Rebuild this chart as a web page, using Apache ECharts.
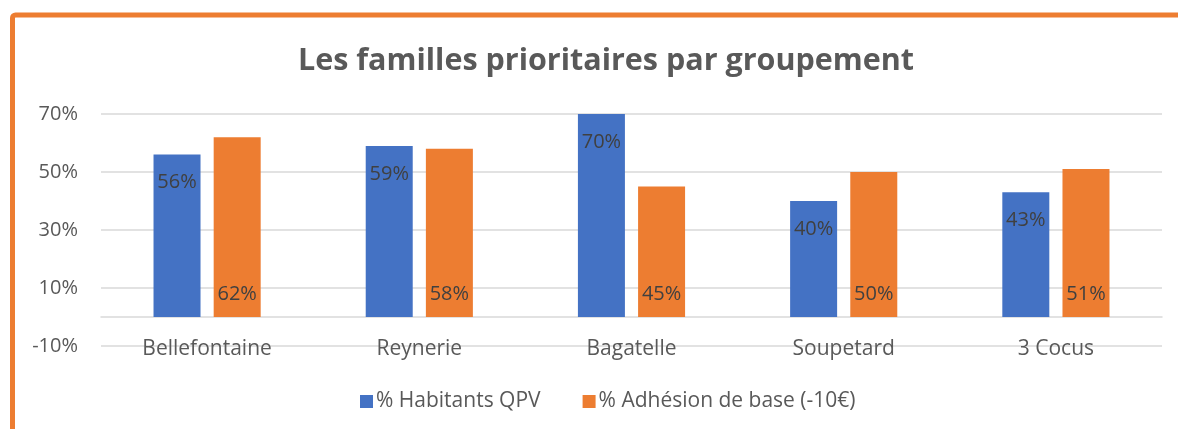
<!DOCTYPE html>
<html>
<head>
<meta charset="utf-8">
<script src="https://cdn.jsdelivr.net/npm/echarts@6/dist/echarts.min.js"></script>
<style>
  html, body { margin: 0; padding: 0; background: #fff; }
  #chart { width: 1178px; height: 429px; }
</style>
</head>
<body>
<div id="chart"></div>
<script>
// données du graphique
const groupements = ['Bellefontaine', 'Reynerie', 'Bagatelle', 'Soupetard', '3 Cocus']
const habitantsQPV = [56, 59, 70, 40, 43]
const adhesionBase = [62, 58, 45, 50, 51]
const serieNames = ['% Habitants QPV', '% Adhésion de base (-10€)']

const FONT = '"Open Sans", sans-serif'
const chart = echarts.init(document.getElementById('chart'))

const option = {
  animation: false,
  textStyle: { fontFamily: FONT },
  title: {
    text: 'Les familles prioritaires par groupement',
    left: 601,
    top: 41,
    textAlign: 'center',
    textStyle: { fontFamily: FONT, fontSize: 30.5, fontWeight: 'bold', color: '#595959' }
  },
  legend: {
    left: 355,
    top: 386,
    itemWidth: 13,
    itemHeight: 13,
    itemGap: 42,
    icon: 'rect',
    textStyle: { fontFamily: FONT, fontSize: 21, color: '#595959', padding: [0, 0, 0, -2] },
    data: serieNames
  },
  grid: { left: 101, right: 16, top: 114, bottom: 83 },
  xAxis: {
    type: 'category',
    data: groupements,
    axisTick: { show: false },
    axisLine: { lineStyle: { color: '#d9d9d9', width: 1.5 } },
    axisLabel: { color: '#595959', fontSize: 21, margin: -7 }
  },
  yAxis: {
    type: 'value',
    min: -10,
    max: 70,
    interval: 20,
    axisLine: { show: false },
    axisTick: { show: false },
    axisLabel: { color: '#595959', fontSize: 20, margin: 23, formatter: '{value}%' },
    splitLine: { lineStyle: { color: '#d9d9d9', width: 1.5 } }
  },
  series: [
    {
      name: serieNames[0],
      type: 'bar',
      data: habitantsQPV,
      barWidth: 47,
      barGap: '28%',
      itemStyle: { color: '#4472C4' },
      label: {
        show: true,
        position: 'insideTop',
        distance: 18,
        formatter: '{c}%',
        color: '#404040',
        fontSize: 20
      }
    },
    {
      name: serieNames[1],
      type: 'bar',
      data: adhesionBase,
      barWidth: 47,
      itemStyle: { color: '#ED7D31' },
      label: {
        show: true,
        position: 'insideBottom',
        distance: 13,
        formatter: '{c}%',
        color: '#404040',
        fontSize: 20
      }
    }
  ],
  graphic: [{
    type: 'rect',
    silent: true,
    shape: { x: 12.5, y: 15, width: 1300, height: 600, r: 3 },
    style: { fill: 'none', stroke: '#ED7D31', lineWidth: 5 }
  }]
}

chart.setOption(option)
</script>
</body>
</html>
